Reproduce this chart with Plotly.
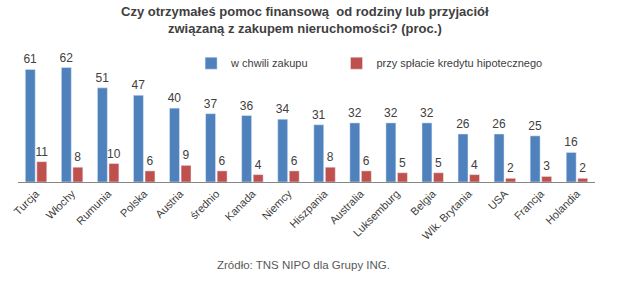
import plotly.graph_objects as go

categories = ["Turcja", "Włochy", "Rumunia", "Polska", "Austria", "średnio", "Kanada", "Niemcy",
              "Hiszpania", "Australia", "Luksemburg", "Belgia", "Wlk. Brytania", "USA", "Francja", "Holandia"]
purchase = [61, 62, 51, 47, 40, 37, 36, 34, 31, 32, 32, 32, 26, 26, 25, 16]
mortgage = [11, 8, 10, 6, 9, 6, 4, 6, 8, 6, 5, 5, 4, 2, 3, 2]
series_names = ["w chwili zakupu", "przy spłacie kredytu hipotecznego"]

lab_font = dict(family="Liberation Sans, Arial", size=12, color="#404040")
leg_font = dict(family="Liberation Sans, Arial", size=11, color="#404040")

fig = go.Figure()
fig.add_trace(go.Bar(x=categories, y=purchase, name=series_names[0], marker_color="#4F81BD",
                     text=purchase, textposition="outside", textfont=lab_font, cliponaxis=False,
                     constraintext="none", legend="legend"))
fig.add_trace(go.Bar(x=categories, y=mortgage, name=series_names[1], marker_color="#C0504D",
                     text=mortgage, textposition="outside", textfont=lab_font, cliponaxis=False,
                     constraintext="none", legend="legend2"))

fig.update_layout(
    width=619, height=282,
    margin=dict(l=12, r=24, t=50, b=100),
    paper_bgcolor="white", plot_bgcolor="white",
    barmode="group", bargap=0.36, bargroupgap=0.14,
    legend=dict(orientation="h", x=0.300, y=0.90, xanchor="left", yanchor="middle",
                font=leg_font, itemwidth=30, bgcolor="rgba(0,0,0,0)"),
    legend2=dict(orientation="h", x=0.552, y=0.90, xanchor="left", yanchor="middle",
                 font=leg_font, itemwidth=30, bgcolor="rgba(0,0,0,0)"),
    xaxis=dict(showline=True, linecolor="#868686", linewidth=1, ticks="", tickangle=-45,
               tickfont=dict(family="Liberation Sans, Arial", size=11, color="#404040"),
               showgrid=False),
    yaxis=dict(visible=False, range=[0, 71.5]),
    showlegend=True,
)
fig.add_annotation(text="<b>Czy otrzymałeś pomoc finansową  od rodziny lub przyjaciół<br>związaną z zakupem nieruchomości? (proc.)</b>",
                   xref="paper", yref="paper", x=(302 - 12) / 583, y=1 + 48 / 132,
                   xanchor="center", yanchor="top", showarrow=False,
                   font=dict(family="Liberation Sans, Arial", size=13, color="#404040"))
fig.add_annotation(text="Zródło: TNS NIPO dla Grupy ING.", xref="paper", yref="paper",
                   x=(300 - 12) / 583, y=-(265 - 182) / 132, xanchor="center", yanchor="middle",
                   showarrow=False, font=dict(family="Liberation Sans, Arial", size=11.5, color="#595959"))
fig.write_html("out.html")
